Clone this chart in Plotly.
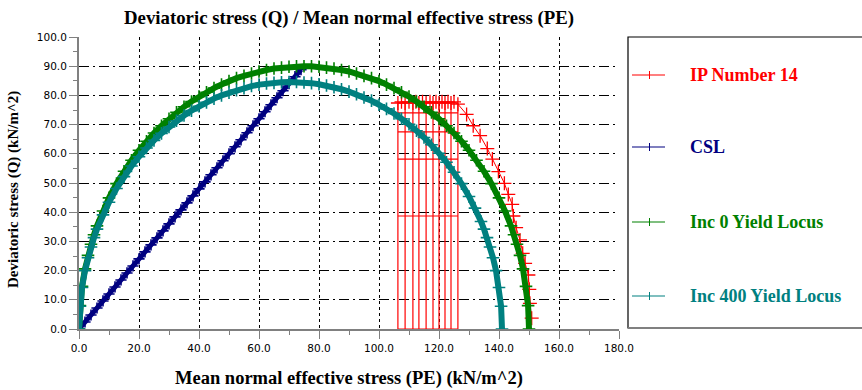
import plotly.graph_objects as go

# ---------------- data ----------------
# Critical state line (CSL)
csl_p = [0, 2, 4, 6, 8, 10, 12, 14, 16, 18, 20, 22, 24, 26, 28, 30, 32, 34, 36, 38,
         40, 42, 44, 46, 48, 50, 52, 54, 56, 58, 60, 62, 64, 66, 68, 70, 72, 74]
csl_q = [0, 2.4, 4.8, 7.2, 9.6, 12.0, 14.4, 16.8, 19.2, 21.6, 24.0, 26.4, 28.8, 31.2,
         33.6, 36.0, 38.4, 40.8, 43.2, 45.6, 48.0, 50.4, 52.8, 55.2, 57.6, 60.0, 62.4,
         64.8, 67.2, 69.6, 72.0, 74.4, 76.8, 79.2, 81.6, 84.0, 86.4, 88.8]

# Inc 0 yield locus
inc0_p = [0, 0.3, 1, 2, 3, 4, 5, 6, 8, 10, 12.5, 15, 17.5, 20, 22.5, 25, 27.5, 30, 32.5,
          35, 37.5, 40, 42.5, 45, 47.5, 50, 52.5, 55, 57.5, 60, 62.5, 65, 67.5, 70, 72.5,
          75, 77.5, 80, 82.5, 85, 87.5, 90, 92.5, 95, 97.5, 100, 102.5, 105, 107.5, 110,
          112.5, 115, 117.5, 120, 122.5, 125, 127.5, 130, 132.5, 135, 137.5, 140, 142,
          144, 145, 146, 147, 148, 149, 149.7, 150]
inc0_q = [0, 8.0, 14.6, 20.6, 25.2, 29.0, 32.3, 35.3, 40.4, 44.9, 49.8, 54.0, 57.8, 61.2,
          64.3, 67.1, 69.6, 72.0, 74.2, 76.1, 77.9, 79.6, 81.1, 82.5, 83.7, 84.9, 85.9,
          86.7, 87.5, 88.2, 88.7, 89.2, 89.5, 89.8, 90.0, 90.0, 90.0, 89.8, 89.5, 89.2,
          88.7, 88.2, 87.5, 86.7, 85.9, 84.9, 83.7, 82.5, 81.1, 79.6, 77.9, 76.1, 74.2,
          72.0, 69.6, 67.1, 64.3, 61.2, 57.8, 54.0, 49.8, 44.9, 40.4, 35.3, 32.3, 29.0,
          25.2, 20.6, 14.6, 8.0, 0]

# Inc 400 yield locus
inc400_p = [0, 0.3, 1, 2, 3, 4, 5, 6, 8, 10, 12.5, 15, 17.5, 20, 22.5, 25, 27.5, 30, 32.5,
            35, 37.5, 40, 42.5, 45, 47.5, 50, 52.5, 55, 57.5, 60, 62.5, 65, 67.5, 70, 72.5,
            75, 77.5, 80, 82.5, 85, 87.5, 90, 92.5, 95, 97.5, 100, 102.5, 105, 107.5, 110,
            112.5, 115, 117.5, 120, 122.5, 125, 127.5, 130, 132, 134, 135, 136, 137, 138,
            139, 140, 140.7, 141]
inc400_q = [0, 7.8, 14.2, 20.0, 24.4, 28.1, 31.3, 34.2, 39.1, 43.4, 48.1, 52.2, 55.8, 59.0,
            62.0, 64.6, 67.0, 69.2, 71.3, 73.1, 74.8, 76.3, 77.6, 78.9, 80.0, 80.9, 81.8,
            82.5, 83.2, 83.7, 84.1, 84.3, 84.5, 84.6, 84.6, 84.4, 84.2, 83.8, 83.4, 82.8,
            82.1, 81.3, 80.4, 79.3, 78.2, 76.8, 75.4, 73.8, 72.0, 70.1, 67.9, 65.6, 63.1,
            60.2, 57.1, 53.7, 49.8, 45.4, 41.4, 36.8, 34.2, 31.3, 28.1, 24.4, 20.0, 14.2,
            7.8, 0]

# IP Number 14 stress path
ip_vertical_p = [106.3, 108.7, 111.3, 113.3, 115.7, 118.0, 120.0, 122.0, 124.0, 126.3]
ip_top_q = 77.4
ip_horizontal_q = [0, 38.7, 58.2, 67.5, 74.0]
ip_path_p = [106.3, 107.5, 108.7, 110.0, 111.3, 112.3, 113.3, 114.5, 115.7, 117.0, 118.0,
             119.0, 120.0, 121.0, 122.0, 123.0, 124.0, 125.0, 126.3, 129.2, 131.4, 133.7,
             136.1, 137.8, 139.8, 141.8, 143.1, 144.4, 144.8, 145.7, 147.0, 147.9, 148.7,
             149.8, 150.1, 150.3, 150.9]
ip_path_q = [77.4, 77.8, 77.4, 77.8, 77.4, 77.8, 77.4, 77.8, 77.4, 77.8, 77.4, 77.8, 77.4,
             77.8, 77.4, 77.8, 77.4, 77.8, 77.0, 73.5, 69.6, 66.2, 61.8, 58.2, 53.9, 49.9,
             46.1, 42.7, 38.7, 34.7, 30.5, 25.9, 22.5, 18.5, 13.6, 8.8, 3.7]

series_names = ["IP Number 14", "CSL", "Inc 0 Yield Locus", "Inc 400 Yield Locus"]
series_colors = ["#ff0000", "#000080", "#008000", "#008080"]

x_ticks = [0, 20, 40, 60, 80, 100, 120, 140, 160, 180]
y_ticks = [0, 10, 20, 30, 40, 50, 60, 70, 80, 90, 100]

# ---------------- layout constants (pixels) ----------------
W, H = 862, 390
L, R, T, B = 79, 243, 37, 61
PW, PH = W - L - R, H - T - B


def px_x(px):
    return (px - L) / PW


def px_y(py):
    return (H - B - py) / PH


SERIF = "Liberation Serif, Times New Roman, serif"
SANS = "DejaVu Sans, Verdana, sans-serif"

fig = go.Figure()

# IP Number 14: vertical and horizontal segments
seg_x, seg_y = [], []
for p in ip_vertical_p:
    seg_x += [p, p, None]
    seg_y += [0, ip_top_q, None]
for q in ip_horizontal_q:
    seg_x += [ip_vertical_p[0], ip_vertical_p[-1], None]
    seg_y += [q, q, None]
fig.add_trace(go.Scatter(x=seg_x, y=seg_y, mode="lines",
                         line=dict(color=series_colors[0], width=1.2),
                         showlegend=False, hoverinfo="skip"))
fig.add_trace(go.Scatter(x=ip_path_p, y=ip_path_q, mode="lines+markers",
                         line=dict(color=series_colors[0], width=1),
                         marker=dict(symbol="cross-thin", size=10,
                                     line=dict(color=series_colors[0], width=1.3)),
                         name=series_names[0], showlegend=False))

# CSL
fig.add_trace(go.Scatter(x=csl_p, y=csl_q, mode="lines+markers",
                         line=dict(color=series_colors[1], width=5),
                         marker=dict(symbol="cross-thin", size=8,
                                     line=dict(color=series_colors[1], width=1.6)),
                         name=series_names[1], showlegend=False))
# Inc 0
fig.add_trace(go.Scatter(x=inc0_p, y=inc0_q, mode="lines+markers",
                         line=dict(color=series_colors[2], width=6),
                         marker=dict(symbol="cross-thin", size=9,
                                     line=dict(color=series_colors[2], width=1.6)),
                         name=series_names[2], showlegend=False))
# Inc 400
fig.add_trace(go.Scatter(x=inc400_p, y=inc400_q, mode="lines+markers",
                         line=dict(color=series_colors[3], width=6),
                         marker=dict(symbol="cross-thin", size=9,
                                     line=dict(color=series_colors[3], width=1.6)),
                         name=series_names[3], showlegend=False))

# ---------------- legend box (drawn manually) ----------------
shapes = [
    dict(type="rect", xref="paper", yref="paper",
         x0=px_x(628), x1=px_x(875), y0=px_y(328), y1=px_y(37),
         line=dict(color="#000000", width=1.2), fillcolor="white", layer="below"),
    dict(type="line", xref="paper", yref="paper",
         x0=px_x(628), x1=px_x(875), y0=px_y(328), y1=px_y(328),
         line=dict(color="#808080", width=2)),
]
annotations = []
legend_y = [75, 147, 222, 296]
for name, col, ly in zip(series_names, series_colors, legend_y):
    shapes.append(dict(type="line", xref="paper", yref="paper",
                       x0=px_x(632), x1=px_x(665), y0=px_y(ly), y1=px_y(ly),
                       line=dict(color=col, width=1.2)))
    shapes.append(dict(type="line", xref="paper", yref="paper",
                       x0=px_x(649.5), x1=px_x(649.5), y0=px_y(ly - 4), y1=px_y(ly + 4),
                       line=dict(color=col, width=1)))
    annotations.append(dict(text=name, xref="paper", yref="paper",
                            x=px_x(688), y=px_y(ly), xanchor="left", yanchor="middle",
                            showarrow=False,
                            font=dict(family=SERIF, size=18, color=col, weight="bold")))

# axis titles
annotations.append(dict(text="Mean normal effective stress (PE) (kN/m^2)",
                        xref="paper", yref="paper", x=0.5, y=px_y(378),
                        xanchor="center", yanchor="middle", showarrow=False,
                        font=dict(family=SERIF, size=18.5, color="black", weight="bold")))
annotations.append(dict(text="Deviatoric stress (Q) (kN/m^2)",
                        xref="paper", yref="paper", x=px_x(13), y=px_y(190),
                        xanchor="center", yanchor="middle", textangle=-90,
                        showarrow=False,
                        font=dict(family=SERIF, size=15, color="black", weight="bold")))

fig.update_layout(
    width=W, height=H,
    margin=dict(l=L, r=R, t=T, b=B, pad=0),
    paper_bgcolor="white", plot_bgcolor="white",
    title=dict(text="Deviatoric stress (Q) / Mean normal effective stress (PE)",
               x=0.5, xref="paper", xanchor="center",
               y=1 - 17 / H, yref="container", yanchor="middle",
               font=dict(family=SERIF, size=18.8, color="black", weight="bold")),
    shapes=shapes, annotations=annotations,
    showlegend=False,
)

fig.update_xaxes(
    range=[0, 180], tickvals=x_ticks, ticktext=[f"{v:.1f}" for v in x_ticks],
    showline=True, linecolor="#808080", linewidth=2,
    ticks="outside", ticklen=8, tickcolor="#808080", tickwidth=1,
    minor=dict(dtick=10, ticks="outside", ticklen=4, tickcolor="#808080", showgrid=False),
    showgrid=True, gridcolor="#000000", gridwidth=1, griddash="3px,3px",
    zeroline=False, tickfont=dict(family=SANS, size=10.5, color="black"),
)
fig.update_yaxes(
    range=[0, 100], tickvals=y_ticks, ticktext=[f"{v:.1f}" for v in y_ticks],
    showline=True, linecolor="#808080", linewidth=2,
    ticks="outside", ticklen=8, tickcolor="#808080", tickwidth=1,
    minor=dict(dtick=5, ticks="outside", ticklen=4, tickcolor="#808080", showgrid=False),
    showgrid=True, gridcolor="#000000", gridwidth=1, griddash="10px,4px,2px,4px",
    zeroline=False, tickfont=dict(family=SANS, size=10.5, color="black"),
)

fig.write_html(
    "out.html",
    config={"displayModeBar": False},
    post_script="document.body.style.margin='0px';document.body.style.overflow='hidden';",
)
